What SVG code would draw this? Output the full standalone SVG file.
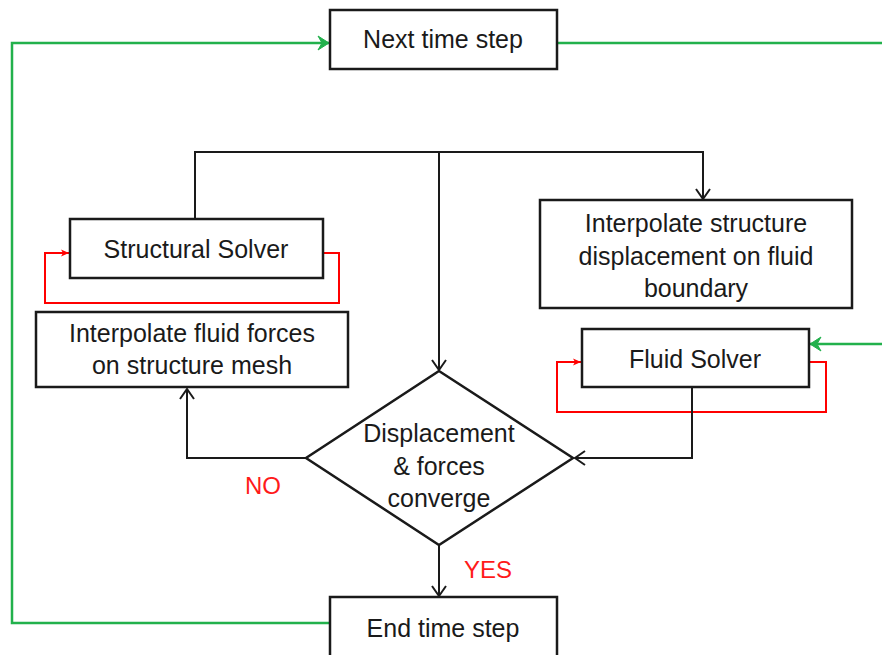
<svg xmlns="http://www.w3.org/2000/svg" width="882" height="655" viewBox="0 0 882 655">
<defs>
<style>
.box{fill:#fff;stroke:#1a1a1a;stroke-width:2.5}
.t{font-family:"Liberation Sans",Arial,sans-serif;font-size:25px;fill:#1a1a1a;text-anchor:middle}
.lbl{font-family:"Liberation Sans",Arial,sans-serif;font-size:24px;fill:#ff1a1a;text-anchor:middle}
.blk{fill:none;stroke:#1a1a1a;stroke-width:2}
.grn{fill:none;stroke:#22b14c;stroke-width:2.5}
.red{fill:none;stroke:#ff0000;stroke-width:2}
</style>
<marker id="ab" markerUnits="userSpaceOnUse" markerWidth="14" markerHeight="16" refX="12" refY="8" orient="auto">
<path d="M2,1 L12,8 L2,15" fill="none" stroke="#1a1a1a" stroke-width="2"/>
</marker>
<marker id="ag" markerUnits="userSpaceOnUse" markerWidth="14" markerHeight="16" refX="12" refY="8" orient="auto">
<path d="M1,1 L12,8 L1,15 L5,8 z" fill="#22b14c" stroke="#22b14c" stroke-width="1"/>
</marker>
<marker id="ar" markerUnits="userSpaceOnUse" markerWidth="10" markerHeight="10" refX="9" refY="5" orient="auto">
<path d="M1,1.5 L9,5 L1,8.5 L3,5 z" fill="#ff0000"/>
</marker>
</defs>
<g id="connectors">
<path class="grn" d="M330,623 H12 V43 H329" marker-end="url(#ag)"/>
<path class="grn" d="M557,43 H882"/>
<path class="grn" d="M882,344 H810" marker-end="url(#ag)"/>
<path class="blk" d="M195,219 V152 H703 V199" marker-end="url(#ab)"/>
<path class="blk" d="M439,152 V370" marker-end="url(#ab)"/>
<path class="red" d="M323,253 H339 V303 H45 V253 H69" marker-end="url(#ar)"/>
<path class="red" d="M809,362 H826 V412 H557 V362 H581" marker-end="url(#ar)"/>
<path class="blk" d="M692,387 V458 H575" marker-end="url(#ab)"/>
<path class="blk" d="M306,458 H187 V389" marker-end="url(#ab)"/>
<path class="blk" d="M439,545 V596" marker-end="url(#ab)"/>
</g>
<g id="next">
<rect class="box" x="330" y="10" width="227" height="59"/>
<text class="t" x="443" y="48">Next time step</text>
</g>
<g id="structural">
<rect class="box" x="70" y="219" width="253" height="59"/>
<text class="t" x="196" y="258">Structural Solver</text>
</g>
<g id="interp-forces">
<rect class="box" x="36" y="312" width="312" height="75"/>
<text class="t" x="192" y="342">Interpolate fluid forces</text>
<text class="t" x="192" y="374">on structure mesh</text>
</g>
<g id="interp-disp">
<rect class="box" x="540" y="200" width="312" height="108"/>
<text class="t" x="696" y="232">Interpolate structure</text>
<text class="t" x="696" y="265">displacement on fluid</text>
<text class="t" x="696" y="297">boundary</text>
</g>
<g id="fluid">
<rect class="box" x="582" y="329" width="227" height="58"/>
<text class="t" x="695" y="368">Fluid Solver</text>
</g>
<g id="decision">
<polygon class="box" points="439,371 573,458 439,545 306,458"/>
<text class="t" x="439" y="442">Displacement</text>
<text class="t" x="439" y="475">&amp; forces</text>
<text class="t" x="439" y="507">converge</text>
</g>
<g id="end">
<rect class="box" x="330" y="597" width="227" height="70"/>
<text class="t" x="443" y="637">End time step</text>
</g>
<text class="lbl" x="263" y="494">NO</text>
<text class="lbl" x="488" y="578">YES</text>
</svg>
